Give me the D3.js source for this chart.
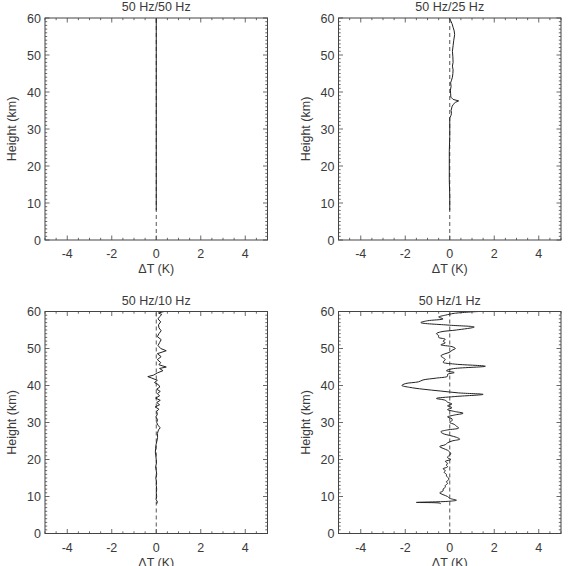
<!DOCTYPE html>
<html><head><meta charset="utf-8">
<script src="https://cdn.jsdelivr.net/npm/d3@7"></script>
<style>body{margin:0;background:#fff}svg{display:block}text{font-family:"Liberation Sans",Arial,sans-serif;fill:#3a3a3a}</style>
</head><body><svg id="c" width="571" height="566"></svg>
<script>
const titles = ["50 Hz/50 Hz", "50 Hz/25 Hz", "50 Hz/10 Hz", "50 Hz/1 Hz"];
const xTicks = [-4, -2, 0, 2, 4];
const yTicks = [0, 10, 20, 30, 40, 50, 60];

const h1 = [8, 60];
const t1 = [0, 0];

const h2 = [8, 12, 16, 20, 24, 28, 30, 33, 33.6, 34.2, 35, 36, 36.6, 37.2, 37.6, 38, 38.6, 39.5, 40.5, 41.5, 42.5, 43.2, 44, 45, 46, 47, 48, 49.5, 51, 52.5, 54, 55.5, 56.5, 57.5, 58.5, 59.3, 60];
const t2 = [0, 0, -0.02, -0.02, -0.02, 0, 0, 0, 0.05, 0.08, 0.06, 0.1, 0.15, 0.25, 0.4, 0.15, 0.05, 0.04, 0.03, 0.06, 0.04, 0.08, 0.12, 0.14, 0.15, 0.12, 0.15, 0.14, 0.12, 0.15, 0.18, 0.22, 0.2, 0.15, 0.1, 0.04, -0.02];

const h3 = [8, 8.6, 9.2, 10, 11, 12, 13, 14, 15, 16, 17, 18, 19, 20, 21, 22, 23, 24, 25, 26, 27, 28, 28.6, 29.2, 30, 30.8, 31.5, 32.2, 33, 33.6, 34.2, 34.8, 35.4, 36, 36.6, 37.2, 37.8, 38.4, 39, 39.6, 40.2, 40.8, 41.4, 42, 42.4, 42.8, 43.4, 44, 44.6, 45, 45.6, 46.2, 47, 47.8, 48.6, 49.4, 50, 50.8, 51.6, 52.4, 53.2, 54, 54.8, 55.6, 56.4, 57.2, 58, 58.6, 59.2, 59.6, 60];
const t3 = [0.02, 0.05, -0.01, 0.02, 0, 0.02, 0, 0.01, -0.02, 0.02, 0, -0.03, 0.01, 0, -0.02, -0.04, -0.03, -0.01, 0.03, 0.06, 0.05, 0.1, 0.18, 0.08, 0.02, 0.06, -0.02, 0.05, 0.02, 0.12, -0.05, 0.15, 0.02, 0.18, -0.03, 0.15, 0.05, 0.18, 0.02, 0.16, 0.1, -0.08, 0.05, -0.2, -0.38, -0.12, 0.05, 0.3, 0.15, 0.45, 0.12, 0.2, 0.05, 0.22, 0.05, 0.45, 0.2, 0.08, 0.15, 0.22, 0.05, 0.12, 0.22, 0.12, 0.1, 0.2, 0.08, 0.15, 0.25, 0.1, 0.35];

const h4 = [8, 8.2, 8.4, 8.7, 9, 9.5, 10, 10.5, 11, 11.5, 12, 12.5, 13, 13.5, 14, 14.5, 15, 15.5, 16, 16.5, 17, 17.5, 18, 18.5, 19, 19.5, 20, 20.5, 21, 21.5, 22, 22.5, 23, 23.5, 24, 24.5, 25, 25.5, 26, 26.5, 27, 27.5, 28, 28.5, 29, 29.5, 30, 30.5, 31, 31.5, 32, 32.5, 33, 33.5, 34, 34.5, 35, 35.5, 36, 36.5, 37, 37.6, 38, 38.5, 39, 39.5, 40, 40.5, 41, 41.5, 42, 42.5, 43, 43.5, 44, 44.5, 45.2, 45.8, 46.3, 47, 47.5, 48, 48.5, 49, 49.5, 50, 50.5, 51, 51.5, 52, 52.5, 53, 53.5, 54, 54.5, 55, 55.8, 56.3, 57, 57.5, 58, 58.5, 59, 59.5, 60];
const t4 = [-0.4, -0.45, -1.5, -0.05, 0.3, 0.0, -0.1, -0.3, -0.45, -0.3, -0.3, -0.2, -0.2, -0.1, -0.15, -0.05, -0.05, -0.15, -0.15, -0.25, -0.2, -0.3, -0.1, -0.15, -0.1, -0.2, 0.05, -0.1, -0.05, 0.05, 0.0, -0.1, -0.3, -0.45, -0.2, -0.1, 0.1, 0.45, 0.3, 0.0, -0.3, -0.4, -0.1, 0.4, 0.3, 0.2, 0.0, 0.1, 0.1, -0.1, 0.2, 0.6, 0.2, -0.1, 0.1, -0.1, 0.1, -0.1, -0.2, -0.6, 0.2, 1.5, 0.4, -0.4, -1.2, -1.8, -2.15, -2.0, -1.4, -1.2, -0.6, -0.1, -0.1, 0.2, -0.15, 0.1, 1.6, 0.2, -0.3, -0.2, -0.3, -0.4, -0.25, 0.0, 0.1, 0.25, 0.1, -0.4, -0.2, -0.3, -0.2, -0.5, -0.5, -0.6, -0.4, 0.3, 1.1, 0.0, -1.3, -1.0, -0.3, -0.5, -0.2, 0.2, 1.3];

const panelData = [[h1, t1], [h2, t2], [h3, t3], [h4, t4]];

const svg = d3.select("#c");
const W = 222.5, H = 222;
const origins = [[45, 18], [338.5, 18], [45, 311.5], [338.5, 311.5]];
const x = d3.scaleLinear().domain([-5, 5]).range([0, W]);
const y = d3.scaleLinear().domain([0, 60]).range([H, 0]);
const frameColor = "#444";
const fs = 12.5;

panelData.forEach((pd, i) => {
  const [ox, oy] = origins[i];
  const g = svg.append("g").attr("transform", `translate(${ox},${oy})`);
  const xMinor = d3.range(-5, 5.001, 0.5);
  const yMinor = d3.range(0, 60.001, 1);
  const tk = g.append("g").attr("stroke", frameColor).attr("stroke-width", 0.8);
  xMinor.forEach(v => {
    const major = Math.abs(v % 2) < 1e-9 && Math.abs(v) < 5;
    const L = major ? 4.5 : 2.2;
    tk.append("line").attr("x1", x(v)).attr("x2", x(v)).attr("y1", H).attr("y2", H - L);
    tk.append("line").attr("x1", x(v)).attr("x2", x(v)).attr("y1", 0).attr("y2", L);
  });
  yMinor.forEach(v => {
    const major = v % 10 === 0;
    const L = major ? 4.5 : 2.2;
    tk.append("line").attr("y1", y(v)).attr("y2", y(v)).attr("x1", 0).attr("x2", L);
    tk.append("line").attr("y1", y(v)).attr("y2", y(v)).attr("x1", W).attr("x2", W - L);
  });
  g.append("line").attr("x1", x(0)).attr("x2", x(0)).attr("y1", y(0)).attr("y2", y(60))
    .attr("stroke", "#555").attr("stroke-width", 1).attr("stroke-dasharray", "4,3");
  const line = d3.line().x(d => x(d[1])).y(d => y(d[0]))
    .curve(i === 3 ? d3.curveCatmullRom.alpha(0.5) : d3.curveLinear);
  const pts = pd[0].map((h, k) => [h, pd[1][k]]);
  g.append("path").datum(pts).attr("d", line).attr("fill", "none")
    .attr("stroke", "#222").attr("stroke-width", 1);
  g.append("rect").attr("x", 0).attr("y", 0).attr("width", W).attr("height", H)
    .attr("fill", "none").attr("stroke", frameColor).attr("stroke-width", 1);
  xTicks.forEach(v => {
    g.append("text").attr("x", x(v)).attr("y", H + 18).attr("text-anchor", "middle")
      .attr("font-size", fs).text(v);
  });
  yTicks.forEach(v => {
    g.append("text").attr("x", -4).attr("y", y(v) + 4.5).attr("text-anchor", "end")
      .attr("font-size", fs).text(v);
  });
  g.append("text").attr("x", W / 2).attr("y", -7).attr("text-anchor", "middle")
    .attr("font-size", fs).text(titles[i]);
  g.append("text").attr("x", W / 2).attr("y", H + 33).attr("text-anchor", "middle")
    .attr("font-size", fs).text("ΔT (K)");
  g.append("text").attr("transform", `translate(${-29},${H / 2}) rotate(-90)`)
    .attr("text-anchor", "middle").attr("font-size", fs).text("Height (km)");
});
</script></body></html>
